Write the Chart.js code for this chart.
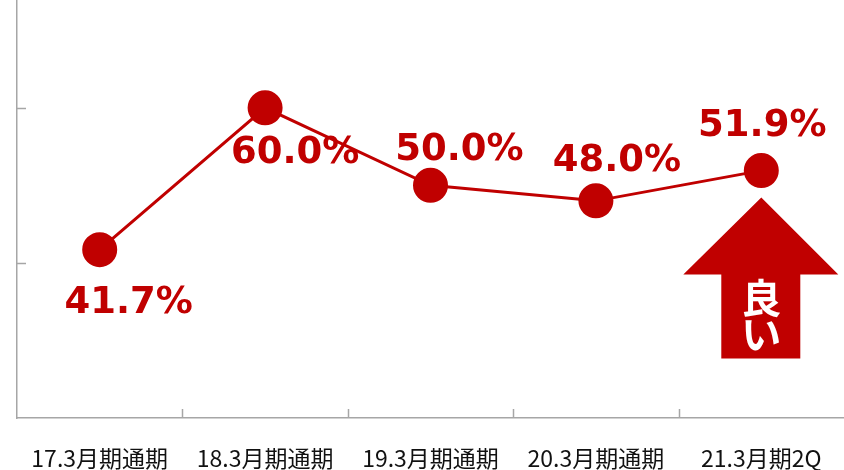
<!DOCTYPE html>
<html>
<head>
<meta charset="utf-8">
<script src="https://cdn.jsdelivr.net/npm/chart.js@4/dist/chart.umd.min.js"></script>
<style>
  html, body { margin: 0; padding: 0; background: #fff; overflow: hidden; }
  canvas { display: block; }
</style>
</head>
<body>
<canvas id="ratioChart" width="844" height="470"></canvas>
<script>
const categories = ['17.3月期通期', '18.3月期通期', '19.3月期通期', '20.3月期通期', '21.3月期2Q'];
const ratios = [41.7, 60.0, 50.0, 48.0, 51.9];
const yTicks = [40, 60];

// label placement relative to each point (styling only)
const labelDx = [29, 30, 29, 21, 1];
const labelDy = [54, 46, -35, -39, -44];

const red = '#C00000';
const axisGrey = '#a6a6a6';

const innerTicks = {
    id: 'innerTicks',
    afterDraw(chart) {
        const c = chart.ctx, x = chart.scales.x, y = chart.scales.y, a = chart.chartArea;
        c.save();
        c.strokeStyle = axisGrey;
        c.lineWidth = 1.5;
        c.beginPath();
        yTicks.forEach(v => {
            const py = Math.round(y.getPixelForValue(v)) + 0.5;
            c.moveTo(a.left, py);
            c.lineTo(a.left + 9, py);
        });
        for (let i = 1; i < categories.length; i++) {
            const px = Math.round((x.getPixelForValue(i - 1) + x.getPixelForValue(i)) / 2) + 0.5;
            c.moveTo(px, a.bottom);
            c.lineTo(px, a.bottom - 9);
        }
        c.stroke();
        c.restore();
    }
};

const valueLabels = {
    id: 'valueLabels',
    afterDatasetsDraw(chart) {
        const c = chart.ctx;
        const meta = chart.getDatasetMeta(0);
        c.save();
        c.fillStyle = red;
        c.font = 'bold 37px "DejaVu Sans", Verdana, sans-serif';
        c.textAlign = 'center';
        c.textBaseline = 'middle';
        meta.data.forEach((pt, i) => {
            c.fillText(ratios[i].toFixed(1) + '%', pt.x + labelDx[i], pt.y + labelDy[i]);
        });

        // "良い" arrow under the last point
        const last = meta.data[meta.data.length - 1];
        const cx = last.x;
        const tipY = last.y + 27;
        c.beginPath();
        c.moveTo(cx, tipY);
        c.lineTo(cx + 77, tipY + 77);
        c.lineTo(cx + 39, tipY + 77);
        c.lineTo(cx + 39, tipY + 161);
        c.lineTo(cx - 40, tipY + 161);
        c.lineTo(cx - 40, tipY + 77);
        c.lineTo(cx - 78, tipY + 77);
        c.closePath();
        c.fill();
        c.fillStyle = '#fff';
        c.font = 'bold 40px "Noto Sans CJK JP", sans-serif';
        c.fillText('良', cx, tipY + 100);
        c.fillText('い', cx, tipY + 136);
        c.restore();
    }
};

new Chart(document.getElementById('ratioChart'), {
    type: 'line',
    data: {
        labels: categories,
        datasets: [{
            data: ratios,
            borderColor: red,
            borderWidth: 3,
            backgroundColor: red,
            pointBackgroundColor: red,
            pointBorderColor: red,
            pointRadius: 16,
            pointHoverRadius: 16,
            tension: 0,
            clip: false
        }]
    },
    options: {
        responsive: false,
        animation: false,
        layout: { autoPadding: false, padding: { left: 17, right: 0, top: 0, bottom: 0 } },
        plugins: {
            legend: { display: false },
            tooltip: { enabled: false }
        },
        scales: {
            x: {
                offset: true,
                grid: { display: false, drawTicks: false },
                border: { color: axisGrey, width: 1.5 },
                afterFit(scale) {
                    scale.height = 52;
                    scale.paddingLeft = 0;
                    scale.paddingRight = 0;
                },
                ticks: {
                    padding: 26,
                    color: '#111',
                    autoSkip: false,
                    maxRotation: 0,
                    font: { family: '"Noto Sans CJK JP", sans-serif', size: 23 }
                }
            },
            y: {
                min: 20,
                max: 73.9,
                grid: { display: false, drawTicks: false },
                border: { color: axisGrey, width: 1.5 },
                ticks: { display: false, stepSize: 20 }
            }
        }
    },
    plugins: [innerTicks, valueLabels]
});
</script>
</body>
</html>
